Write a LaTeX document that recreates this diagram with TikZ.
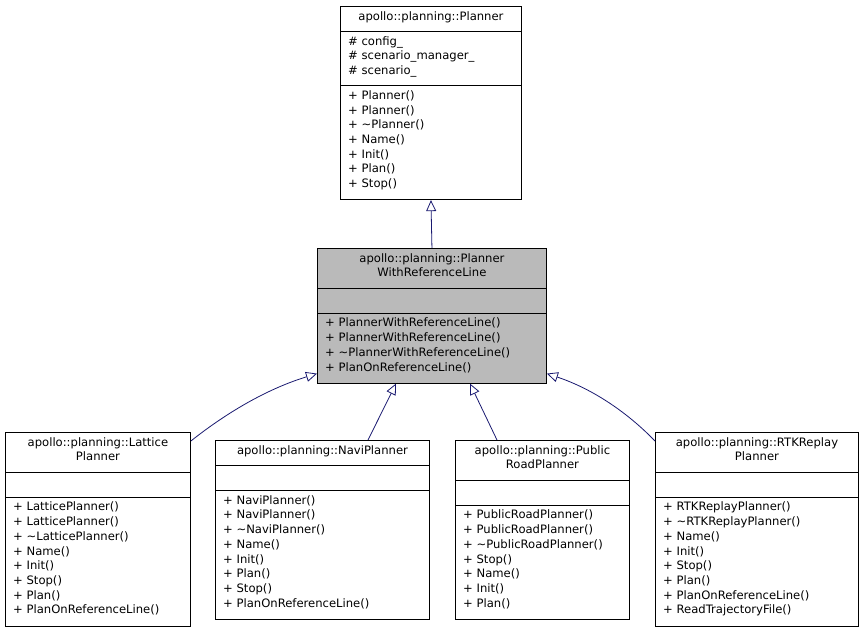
\documentclass[tikz,border=0pt]{standalone}
\usepackage{fontspec}
\setmainfont{DejaVu Sans}
\usetikzlibrary{arrows.meta,calc}
\definecolor{edge}{HTML}{191970}
\tikzset{
  box/.style={draw=black, line width=0.9pt, anchor=north west, inner sep=0pt},
  ttl/.style={anchor=north, align=center, inner sep=0pt, font=\fontsize{11.6}{14.7}\selectfont},
  mem/.style={anchor=north west, align=left, inner sep=0pt, font=\fontsize{11.6}{14.7}\selectfont},
  inh/.style={draw=edge, line width=0.8pt, -{Triangle[open, length=11pt, width=10pt]}}
}
\def\bfill{white}
% \umlbox{name}{x,-y}{w}{nTitle}{title}{nAttr}{attrs}{nMeth}{methods}
\newcommand{\umlbox}[9]{%
  \pgfmathsetmacro{\hT}{#4*14.7+11}%
  \pgfmathsetmacro{\hA}{ifthenelse(#6==0,25,#6*14.7+10)}%
  \pgfmathsetmacro{\hM}{#8*14.7+10.5}%
  \pgfmathsetmacro{\hTot}{\hT+\hA+\hM}%
  \node[box, fill=\bfill, minimum width=#3pt, minimum height=\hTot pt] (#1) at (#2) {};
  \draw[line width=0.9pt] ($(#1.north west)+(0,-\hT pt)$) coordinate (#1s1) -- ++(#3pt,0);
  \draw[line width=0.9pt] ($(#1s1)+(0,-\hA pt)$) coordinate (#1s2) -- ++(#3pt,0);
  \node[ttl] (#1t) at ($(#1.north)+(0,-5pt)$) {#5};
  \node[mem] (#1a) at ($(#1s1)+(8pt,-4.5pt)$) {#7};
  \node[mem] (#1m) at ($(#1s2)+(8pt,-4.5pt)$) {#9};
}
\begin{document}
\begin{tikzpicture}[x=1pt,y=1pt]
\useasboundingbox (0,0) rectangle (863,-632);
\def\t{\textasciitilde}
\umlbox{pl}{340,-6}{181}{1}{apollo::planning::Planner}{3}{\# config\_\\\# scenario\_manager\_\\\# scenario\_}{7}{+ Planner()\\+ Planner()\\+ \t Planner()\\+ Name()\\+ Init()\\+ Plan()\\+ Stop()}
\def\bfill{black!27}
\umlbox{pw}{317,-248}{229}{2}{apollo::planning::Planner\\WithReferenceLine}{0}{}{4}{+ PlannerWithReferenceLine()\\+ PlannerWithReferenceLine()\\+ \t PlannerWithReferenceLine()\\+ PlanOnReferenceLine()}
\def\bfill{white}
\umlbox{la}{5,-432}{185}{2}{apollo::planning::Lattice\\Planner}{0}{}{8}{+ LatticePlanner()\\+ LatticePlanner()\\+ \t LatticePlanner()\\+ Name()\\+ Init()\\+ Stop()\\+ Plan()\\+ PlanOnReferenceLine()}
\umlbox{nv}{215,-440}{214}{1}{apollo::planning::NaviPlanner}{0}{}{8}{+ NaviPlanner()\\+ NaviPlanner()\\+ \t NaviPlanner()\\+ Name()\\+ Init()\\+ Plan()\\+ Stop()\\+ PlanOnReferenceLine()}
\umlbox{pr}{455,-440}{174}{2}{apollo::planning::Public\\RoadPlanner}{0}{}{7}{+ PublicRoadPlanner()\\+ PublicRoadPlanner()\\+ \t PublicRoadPlanner()\\+ Stop()\\+ Name()\\+ Init()\\+ Plan()}
\umlbox{rt}{655,-432}{203}{2}{apollo::planning::RTKReplay\\Planner}{0}{}{8}{+ RTKReplayPlanner()\\+ \t RTKReplayPlanner()\\+ Name()\\+ Init()\\+ Stop()\\+ Plan()\\+ PlanOnReferenceLine()\\+ ReadTrajectoryFile()}
\draw[inh] (pw.north) -- (pl.south);
\draw[inh] ($(la.north east)+(0,-9)$) .. controls (230,-410) and (270,-388) .. ($(pw.south west)+(0,10)$);
\draw[inh] ($(nv.north west)+(153,0)$) -- ($(pw.south west)+(79,0)$);
\draw[inh] ($(pr.north west)+(42,0)$) -- ($(pw.south west)+(153,0)$);
\draw[inh] ($(rt.north west)+(0,-9)$) .. controls (625,-410) and (590,-388) .. ($(pw.south east)+(0,10)$);
\end{tikzpicture}
\end{document}
